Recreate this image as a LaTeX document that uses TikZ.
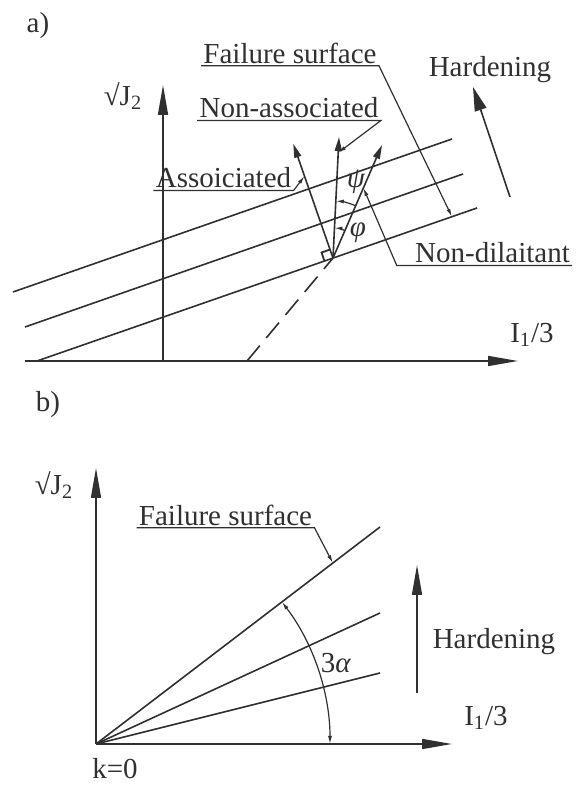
\documentclass[tikz,border=0pt]{standalone}
\usepackage{fontspec}
\setmainfont{Liberation Serif}
\usetikzlibrary{positioning,arrows.meta,calc}
\definecolor{ink}{HTML}{303030}
\tikzset{
  >={Triangle[length=15pt,width=5pt]},
  ax/.style={->,draw=ink,line width=0.8pt},
  surf/.style={draw=ink,line width=0.8pt},
  flw/.style={-{Triangle[length=7pt,width=3.5pt]},draw=ink,line width=0.8pt},
  hard/.style={-{Triangle[length=12pt,width=6pt]},draw=ink,line width=0.8pt},
  lead/.style={-{Latex[length=4pt,width=2pt]},draw=ink,line width=0.6pt},
  dim/.style={draw=ink,line width=0.6pt},
  lbl/.style={font=\fontsize{14.5}{17}\selectfont,text=ink,inner sep=1pt},
  lbli/.style={lbl,font=\fontsize{14.5}{17}\selectfont\itshape},
}

\begin{document}
\begin{tikzpicture}[x=0.5pt,y=0.5pt]
  \useasboundingbox (0,0) rectangle (575,786);
  % ---- a) ----
  \node[lbl] (tagA) at (38,760) {a)};
  \coordinate (oA) at (163,425);
  \coordinate (xA0) at (25,425);
  \coordinate (xA1) at (518,425);
  \coordinate (yA1) at (163,701);
  \draw[ax] (xA0) -- (xA1);
  \draw[ax] (oA) -- (yA1);
  \node[lbl] (jA) at (123,690) {√J\textsubscript{2}};
  \node[lbl] (iA) at (532,451) {I\textsubscript{1}/3};
  % loading surfaces
  \foreach \n/\xs/\ys/\xe/\ye in {1/13/494/452/647, 2/25/459/463/612, 3/37/425/477/578}{
    \coordinate (s\n) at (\xs,\ys);
    \coordinate (e\n) at (\xe,\ye);
    \draw[surf] (s\n) -- (e\n);
  }
  \path (s3) -- (e3) coordinate[pos=0.6727] (apex) coordinate[pos=0.943] (fsP);
  \coordinate (dA) at (247,425);
  \draw[surf,dash pattern=on 10pt off 5pt] (dA) -- (apex);
  % flow directions
  \coordinate (asT) at ($(apex)+(109.17:121)$);
  \coordinate (naT) at (339,649);
  \coordinate (ndT) at (382,641);
  \draw[flw] (apex) -- (asT);
  \draw[flw] (apex) -- (naT);
  \draw[flw] (apex) -- (ndT);
  \draw[dim,line width=0.9pt] ($(apex)+(199.17:9)$) -- ++(109.17:9) -- ($(apex)+(109.17:9)$);
  % angles
  \draw[dim,-{Latex[length=4pt,width=2pt]}] ([shift={(66.6:28.5pt)}]apex) arc[start angle=66.6,end angle=87.2,radius=28.5pt];
  \draw[dim,-{Latex[length=4pt,width=2pt]}] ([shift={(66.6:15pt)}]apex) arc[start angle=66.6,end angle=87.2,radius=15pt];
  \node[lbli] (psi) at (356,604) {ψ};
  \node[lbli] (phi) at (358,553) {φ};
  % leaders
  \node[lbl] (fsa) at (290,733) {Failure surface};
  \draw[lead] (fsa.south west) -- (fsa.south east) -- (fsP);
  \path (apex) -- (naT) coordinate[pos=0.87] (naP);
  \node[lbl] (nas) at (289,678) {Non-associated};
  \draw[lead] (nas.south west) -- (nas.south east) -- (naP);
  \path (apex) -- (asT) coordinate[pos=0.717] (asP);
  \node[lbl] (asc) at (223.5,608) {Assoiciated};
  \draw[lead] (asc.south west) -- (asc.south east) -- (asP);
  \path (apex) -- (ndT) coordinate[pos=0.62] (ndP);
  \node[lbl] (ndl) at (492.5,533) {Non-dilaitant};
  \draw[lead] (ndl.south east) -- ([xshift=-8]ndl.south west) -- (ndP);
  % hardening
  \coordinate (hA0) at (510,589);
  \coordinate (hA1) at (473,699);
  \draw[hard] (hA0) -- (hA1);
  \node[lbl] (hdA) at (490,716) {Hardening};

  % ---- b) ----
  \node[lbl] (tagB) at (48,381) {b)};
  \coordinate (oB) at (96,42);
  \coordinate (xB1) at (452,42);
  \coordinate (yB1) at (96,318);
  \draw[ax] (oB) -- (xB1);
  \draw[ax] (oB) -- (yB1);
  \node[lbl] (jB) at (54,301) {√J\textsubscript{2}};
  \node[lbl] (iB) at (486,68) {I\textsubscript{1}/3};
  \node[lbl] (kB) at (115,17) {k=0};
  \foreach \n/\ye in {1/259, 2/173, 3/113}{
    \coordinate (r\n) at (380,\ye);
    \draw[surf] (oB) -- (r\n);
  }
  \draw[dim,{Latex[length=4pt,width=2pt]}-{Latex[length=4pt,width=2pt]}] ([shift={(0:117pt)}]oB) arc[start angle=0,end angle=37.38,radius=117pt];
  \node[lbl] (alB) at (336,123) {3\textit{α}};
  \path (oB) -- (r1) coordinate[pos=0.834] (fbP);
  \node[lbl] (fsb) at (225.5,271) {Failure surface};
  \draw[lead] (fsb.south west) -- (fsb.south east) -- (fbP);
  \coordinate (hB0) at (417,93);
  \coordinate (hB1) at (417,221);
  \draw[ax] (hB0) -- (hB1);
  \node[lbl] (hdB) at (494,144) {Hardening};
\end{tikzpicture}
\end{document}
